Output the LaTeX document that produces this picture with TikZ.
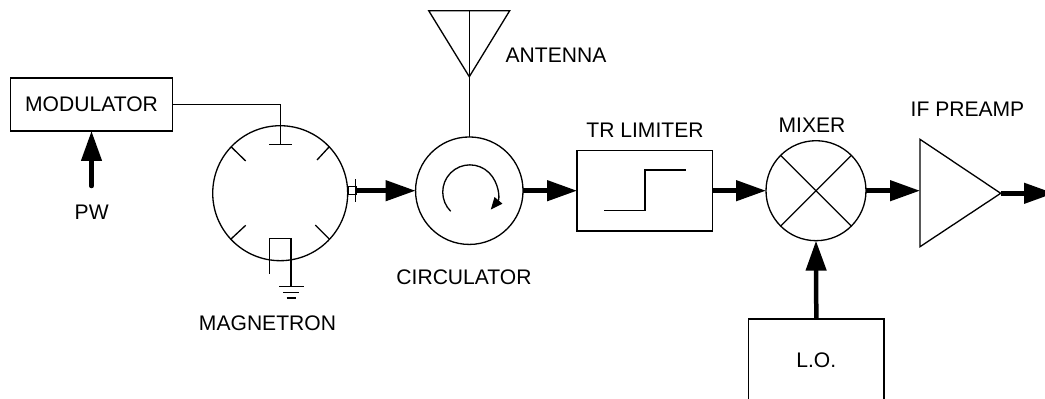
\documentclass[tikz,border=0pt]{standalone}
\usepackage{fontspec}
\setmainfont{Liberation Sans}
\usetikzlibrary{arrows.meta, calc}
\tikzset{
    wire/.style={line width=0.75pt},
    block/.style={draw, line width=0.75pt, outer sep=0pt, align=center, font=\fontsize{12}{14}\selectfont},
    round/.style={draw, circle, line width=0.75pt, outer sep=0pt, inner sep=0pt},
    flow/.style={-{Triangle[length=0.6cm, width=0.4cm]}, line width=0.09cm},
    lbl/.style={font=\fontsize{12}{14}\selectfont, inner sep=0pt},
}
\begin{document}
\begin{tikzpicture}[x=0.02cm, y=-0.02cm]
        \useasboundingbox (0,0) rectangle (1045,399);
        \node[block, minimum width=3.24cm, minimum height=1.06cm] (mod) at (91.5,104.5) {MODULATOR};
        \node[round, minimum size=2.7cm] (mag) at (280.2,193.2) {};
        \node[draw, line width=0.4pt, outer sep=0pt, inner sep=0pt, minimum width=0.16cm, minimum height=0.16cm] (cplr) at (352,190.7) {};
        \node[round, minimum size=2.15cm] (circ) at (469.3,190.7) {};
        \node[block, minimum width=2.71cm, minimum height=1.61cm] (lim) at (644.8,190.7) {};
        \node[round, minimum size=2cm] (mix) at (816,190.7) {};
        \node[block, minimum width=2.71cm, minimum height=1.66cm] (lo) at (816.3,360.5) {L.O.};
        \coordinate (pw) at (91.5,186);
        \coordinate (cath) at (280.3,144.3);
        \coordinate (gnd) at (291,286.7);
        \coordinate (ant) at (469.3,10.7);
        \coordinate (ampin) at (920,190.7);
        \coordinate (amptip) at (1000.7,193.3);
        \coordinate (out) at (1054,193.3);
        % magnetron
        \draw[wire] (mod) -| (cath);
        \draw[wire] (269,144.3) -- (291.7,144.3);
        \draw[wire] (231,146.7) -- (245.7,161);
        \draw[wire] (329.3,146.7) -- (317,160);
        \draw[wire] (231,239) -- (245.7,225.3);
        \draw[wire] (329.3,239) -- (315.3,225);
        \draw[wire] (269.3,273.7) -- (269.3,238.3) -| (gnd);
        \draw[wire] (279,286.7) -- (304,286.7);
        \draw[wire] (283.3,292.5) -- (299.3,292.5);
        \draw[line width=1.1pt] (286.7,297.7) -- (296,297.7);
        \draw[wire] (355.7,179.3) -- (355.7,201.7);
        % antenna
        \draw[wire, line join=miter] (428.7,10.7) -- (509.7,10.7) -- (469.3,76.7) -- cycle;
        \draw[wire] (ant) -- (circ);
        \draw[wire, -{Triangle[length=0.24cm, width=0.2cm]}] (450.7,211.3) arc[start angle=135, end angle=400, radius=27.2];
        % limiter step
        \draw[wire] (604,210.7) -- (645,210.7) -- (645,170) -- (685.7,170);
        % mixer cross
        \draw[wire] (mix.45) -- (mix.225);
        \draw[wire] (mix.135) -- (mix.315);
        % preamp
        \draw[wire] (920,139.3) -- (920,246.7) -- (amptip) -- cycle;
        % signal path
        \draw[flow, line cap=round] (pw) -- (mod.south);
        \draw[flow] (cplr.east) -- (circ.west);
        \draw[flow] (circ.east) -- (lim.west);
        \draw[flow] (lim.east) -- (mix.west);
        \draw[flow] (mix.east) -- (ampin);
        \draw[flow] (amptip) -- (out);
        \draw[flow] (lo.north) -- (mix.south);
        % labels
        \node[lbl] (pwl) at (91.7,212) {PW};
        \node[lbl] (magl) at (267.5,323) {MAGNETRON};
        \node[lbl] (antl) at (556,55) {ANTENNA};
        \node[lbl] (circl) at (464,277) {CIRCULATOR};
        \node[lbl] (liml) at (645,130) {TR LIMITER};
        \node[lbl] (mixl) at (812,125) {MIXER};
        \node[lbl] (ampl) at (967.5,109) {IF PREAMP};
    \end{tikzpicture}
\end{document}
